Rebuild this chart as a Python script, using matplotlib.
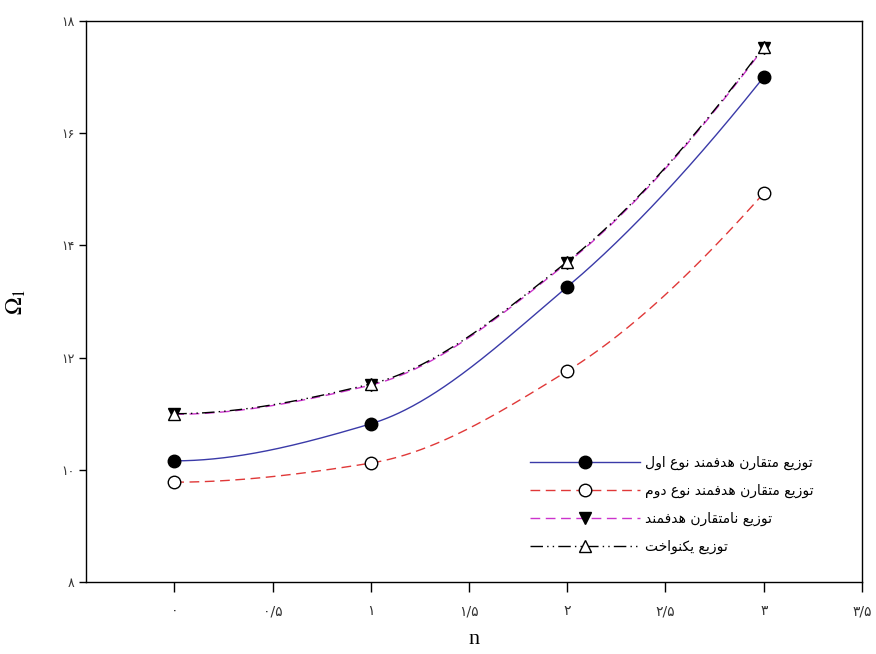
import numpy as np
import matplotlib
matplotlib.use("Agg")
import matplotlib.pyplot as plt

# Power-law index n and the first natural frequency for each distribution
n_vals = [0, 1, 2, 3]
fg_sym_1 = [10.16, 10.82, 13.26, 17.00]
fg_sym_2 = [9.78, 10.12, 11.76, 14.93]
fg_asym = [10.99, 11.51, 13.69, 17.52]
uniform = [11.00, 11.53, 13.71, 17.54]

labels = [
    "توزیع متقارن هدفمند نوع اول",
    "توزیع متقارن هدفمند نوع دوم",
    "توزیع نامتقارن هدفمند",
    "توزیع یکنواخت",
]
x_ticks = [0, 0.5, 1, 1.5, 2, 2.5, 3, 3.5]
x_tick_labels = ["۰", "۰/۵", "۱", "۱/۵", "۲", "۲/۵", "۳", "۳/۵"]
y_ticks = [8, 10, 12, 14, 16, 18]
y_tick_labels = ["۸", "۱۰", "۱۲", "۱۴", "۱۶", "۱۸"]

# Minimal Arabic-script shaping: (isolated, final, initial, medial)
FORMS = {
    "ت": ("\uFE95", "\uFE96", "\uFE97", "\uFE98"),
    "و": ("\uFEED", "\uFEEE", None, None),
    "ز": ("\uFEAF", "\uFEB0", None, None),
    "ی": ("\uFBFC", "\uFBFD", "\uFBFE", "\uFBFF"),
    "ع": ("\uFEC9", "\uFECA", "\uFECB", "\uFECC"),
    "م": ("\uFEE1", "\uFEE2", "\uFEE3", "\uFEE4"),
    "ق": ("\uFED5", "\uFED6", "\uFED7", "\uFED8"),
    "ا": ("\uFE8D", "\uFE8E", None, None),
    "ر": ("\uFEAD", "\uFEAE", None, None),
    "ن": ("\uFEE5", "\uFEE6", "\uFEE7", "\uFEE8"),
    "ه": ("\uFEE9", "\uFEEA", "\uFEEB", "\uFEEC"),
    "د": ("\uFEA9", "\uFEAA", None, None),
    "ف": ("\uFED1", "\uFED2", "\uFED3", "\uFED4"),
    "ل": ("\uFEDD", "\uFEDE", "\uFEDF", "\uFEE0"),
    "ک": ("\uFB8E", "\uFB8F", "\uFB90", "\uFB91"),
    "خ": ("\uFEA5", "\uFEA6", "\uFEA7", "\uFEA8"),
}


def joins_next(ch):
    return ch in FORMS and FORMS[ch][2] is not None


def shape(text):
    out = []
    for i, ch in enumerate(text):
        if ch not in FORMS:
            out.append(ch)
            continue
        prev = text[i - 1] if i > 0 else " "
        nxt = text[i + 1] if i + 1 < len(text) else " "
        from_prev = joins_next(prev)
        to_next = joins_next(ch) and nxt in FORMS
        iso, fin, ini, med = FORMS[ch]
        if from_prev and to_next:
            out.append(med)
        elif from_prev:
            out.append(fin)
        elif to_next:
            out.append(ini)
        else:
            out.append(iso)
    return "".join(reversed(out))


def pchip(x, y, xs):
    """Monotone piecewise cubic Hermite curve through the given points."""
    x = np.asarray(x, float)
    y = np.asarray(y, float)
    h = np.diff(x)
    d = np.diff(y) / h
    m = np.zeros_like(y)
    for k in range(1, len(x) - 1):
        if d[k - 1] * d[k] > 0:
            w1 = 2 * h[k] + h[k - 1]
            w2 = h[k] + 2 * h[k - 1]
            m[k] = (w1 + w2) / (w1 / d[k - 1] + w2 / d[k])
    m[0] = ((2 * h[0] + h[1]) * d[0] - h[0] * d[1]) / (h[0] + h[1])
    if m[0] * d[0] <= 0:
        m[0] = 0
    m[-1] = ((2 * h[-1] + h[-2]) * d[-1] - h[-1] * d[-2]) / (h[-1] + h[-2])
    if m[-1] * d[-1] <= 0:
        m[-1] = 0
    idx = np.clip(np.searchsorted(x, xs) - 1, 0, len(x) - 2)
    t = (xs - x[idx]) / h[idx]
    h00 = 2 * t**3 - 3 * t**2 + 1
    h10 = t**3 - 2 * t**2 + t
    h01 = -2 * t**3 + 3 * t**2
    h11 = t**3 - t**2
    return (h00 * y[idx] + h10 * h[idx] * m[idx]
            + h01 * y[idx + 1] + h11 * h[idx] * m[idx + 1])


plt.rcParams["mathtext.fontset"] = "stix"

fig = plt.figure(figsize=(8.76, 6.54), dpi=100)
ax = fig.add_axes([0.098, 0.110, 0.886, 0.858])

xs = np.linspace(0, 3, 300)

styles = [
    (fg_sym_1, dict(color="#3a3aa8", ls="-"), dict(marker="o", mfc="black", mec="black")),
    (fg_sym_2, dict(color="#e03838", ls=(0, (7, 4))), dict(marker="o", mfc="white", mec="black")),
    (fg_asym, dict(color="#cc33cc", ls=(0, (7, 4))), dict(marker="v", mfc="black", mec="black")),
    (uniform, dict(color="black", ls=(0, (9, 3, 1, 3, 1, 3))), dict(marker="^", mfc="white", mec="black")),
]

handles = []
for (y, lstyle, mstyle), lab in zip(styles, labels):
    ax.plot(xs, pchip(n_vals, y, xs), lw=1.0, **lstyle, zorder=2)
    ax.plot(n_vals, y, ls="none", ms=9, mew=1.0, zorder=3, **mstyle)
    h, = ax.plot([], [], lw=1.0, ms=9, mew=1.0, label=shape(lab), **lstyle, **mstyle)
    handles.append(h)

ax.set_xlim(-0.45, 3.5)
ax.set_ylim(8, 18)
ax.set_xticks(x_ticks)
ax.set_xticklabels(x_tick_labels, fontsize=10, family=["DejaVu Sans"], color="#333333")
ax.set_yticks(y_ticks)
ax.set_yticklabels(y_tick_labels, fontsize=9, family=["DejaVu Sans"], color="#333333")
ax.tick_params(axis="x", direction="out", length=7, width=1, pad=9, top=False)
ax.tick_params(axis="y", direction="out", length=5, width=1, pad=3, right=False)
for s in ax.spines.values():
    s.set_linewidth(1.0)

ax.set_xlabel("n", fontsize=16, family="Liberation Serif")
ax.xaxis.set_label_coords(0.5, -0.085)
ax.set_ylabel(r"$\Omega_1$", fontsize=17)
ax.yaxis.set_label_coords(-0.075, 0.5)

leg = ax.legend(handles=handles, loc="upper left", bbox_to_anchor=(0.572, 0.225),
                frameon=False, handlelength=7.9, handletextpad=0.4,
                labelspacing=1.0, borderpad=0.0, borderaxespad=0.0,
                prop={"family": "DejaVu Sans", "size": 10})

fig.savefig("out.png", dpi=100)
